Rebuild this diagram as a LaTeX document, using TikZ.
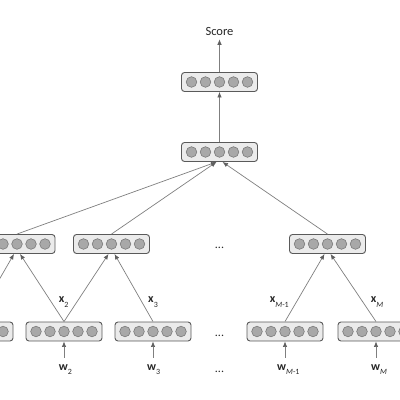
\documentclass[tikz,border=0pt]{standalone}
\usepackage{fontspec}
\setmainfont{Carlito}
\usetikzlibrary{arrows.meta}
\definecolor{boxfill}{HTML}{EBEBEB}
\definecolor{boxdraw}{HTML}{5A5A5A}
\definecolor{dotfill}{HTML}{A8A8A8}
\definecolor{dotdraw}{HTML}{7A7A7A}
\definecolor{linecol}{HTML}{7F7F7F}
\definecolor{tipcol}{HTML}{5F5F5F}
\newcommand\lblsub[2]{\textbf{#1}\rlap{\raisebox{-0.8ex}{\fontsize{8}{9}\selectfont #2}}}
\begin{document}
\begin{tikzpicture}[x=1pt,y=1pt,
  layer/.style={draw=boxdraw, fill=boxfill, rounded corners=3pt,
    minimum width=76pt, minimum height=19pt, inner sep=0pt, line width=0.9pt,
    path picture={\foreach \i in {-2,...,2}
      \draw[draw=dotdraw, fill=dotfill, line width=0.6pt]
        ([xshift=\i*14pt]path picture bounding box.center) circle (5.3pt);}},
  conn/.style={draw=linecol, line width=0.7pt,
    -{Latex[length=5.5pt,width=4.5pt,color=tipcol]}},
  lab/.style={font=\fontsize{12}{14}\selectfont, inner sep=0pt, text=black!85},
]
\useasboundingbox (0,0) rectangle (400,-400);
\clip (0,0) rectangle (400,-400);

% layers
\node[layer] (top) at (219.5,-82) {};
\node[layer] (mid) at (219.5,-152) {};
\node[layer] (h1) at (17,-244) {};
\node[layer] (h2) at (111.5,-244) {};
\node[layer] (h3) at (327.5,-244) {};
\node[layer] (e1) at (-25,-331.5) {};
\node[layer] (e2) at (64,-331.5) {};
\node[layer] (e3) at (153,-331.5) {};
\node[layer] (e4) at (285,-331.5) {};
\node[layer] (e5) at (376,-331.5) {};

% score
\node[font=\fontsize{12.5}{14}\selectfont, inner xsep=1pt, inner ysep=4pt, text=black!85] (score) at (219.5,-31) {Score};

% x labels
\node[lab] (x2) at (61.7,-302) {\lblsub{x}{2}};
\node[lab] (x3) at (151,-302) {\lblsub{x}{3}};
\node[lab] (xm1) at (272.7,-302) {\lblsub{x}{\itshape M\upshape -1}};
\node[lab] (xm) at (373.7,-302) {\lblsub{x}{\itshape M}};

% w labels
\node[lab] (w2) at (63.3,-369.5) {\lblsub{w}{2}};
\node[lab] (w3) at (151.7,-369.5) {\lblsub{w}{3}};
\node[lab] (wm1) at (281.7,-369.5) {\lblsub{w}{\itshape M\upshape -1}};
\node[lab] (wm) at (375.7,-369.5) {\lblsub{w}{\itshape M}};

% ellipses
\node[lab] (d1) at (219.5,-247.5) {...};
\node[lab] (d2) at (219.5,-336) {...};
\node[lab] (d3) at (219.5,-371.5) {...};

% arrow bases below the word boxes
\coordinate (b2) at (64,-357.5);
\coordinate (b3) at (153,-357.5);
\coordinate (b4) at (285,-357.5);
\coordinate (b5) at (376,-357.5);

% connectors
\draw[conn] (top.north) -- (score.south);
\draw[conn] (mid.north) -- (top.south);
\draw[conn] (h1.north) -- ([xshift=-3pt]mid.south);
\draw[conn] (h2.north) -- ([xshift=-3pt]mid.south);
\draw[conn] (h3.north) -- ([xshift=3pt]mid.south);
\draw[conn] (e1.north) -- ([xshift=-3pt]h1.south);
\draw[conn] (e2.north) -- ([xshift=3pt]h1.south);
\draw[conn] (e2.north) -- ([xshift=-3pt]h2.south);
\draw[conn] (e3.north) -- ([xshift=3pt]h2.south);
\draw[conn] (e4.north) -- ([xshift=-3pt]h3.south);
\draw[conn] (e5.north) -- ([xshift=3pt]h3.south);
\draw[conn] (b2) -- (e2.south);
\draw[conn] (b3) -- (e3.south);
\draw[conn] (b4) -- (e4.south);
\draw[conn] (b5) -- (e5.south);
\end{tikzpicture}
\end{document}
